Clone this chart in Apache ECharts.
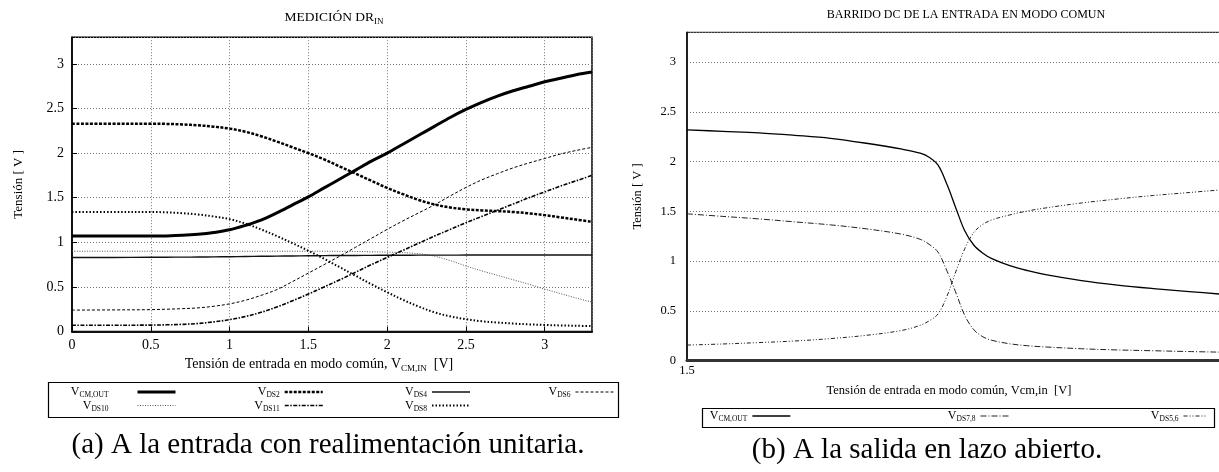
<!DOCTYPE html>
<html>
<head>
<meta charset="utf-8">
<script src="https://cdn.jsdelivr.net/npm/echarts@6.0.0/dist/echarts.min.js"></script>
<style>
html, body { margin: 0; padding: 0; background: #fff; overflow: hidden; }
#main { width: 1219px; height: 472px; }
</style>
</head>
<body>
<div id="main"></div>
<script>
var FONT = 'Liberation Serif';

// (a) medición DR_IN, barrido 0..3.3 V
var vinA = [0, 0.25, 0.5, 0.6, 0.7, 0.8, 0.9, 1.0, 1.1, 1.2, 1.3, 1.4, 1.5, 1.6, 1.7, 1.8,
    1.9, 2.0, 2.1, 2.2, 2.3, 2.4, 2.5, 2.6, 2.7, 2.8, 2.9, 3.0, 3.1, 3.2, 3.3];
var vcmOutA = [1.07, 1.07, 1.07, 1.072, 1.078, 1.09, 1.11, 1.14, 1.19, 1.25, 1.33, 1.42, 1.51, 1.61, 1.71, 1.81,
    1.91, 2.0, 2.1, 2.2, 2.3, 2.4, 2.49, 2.57, 2.64, 2.7, 2.75, 2.8, 2.84, 2.88, 2.91];
var vds2A = [2.33, 2.33, 2.33, 2.328, 2.322, 2.312, 2.297, 2.275, 2.24, 2.19, 2.13, 2.065, 2.0, 1.93, 1.85, 1.77,
    1.69, 1.61, 1.54, 1.475, 1.425, 1.39, 1.37, 1.358, 1.35, 1.34, 1.325, 1.305, 1.28, 1.255, 1.23];
var vds4A = [0.83, 0.83, 0.832, 0.833, 0.834, 0.835, 0.837, 0.839, 0.841, 0.843, 0.845, 0.847, 0.849, 0.851, 0.852, 0.853,
    0.854, 0.855, 0.855, 0.856, 0.856, 0.856, 0.857, 0.857, 0.857, 0.857, 0.857, 0.857, 0.857, 0.857, 0.857];
var vds6A = [0.24, 0.242, 0.245, 0.25, 0.256, 0.265, 0.283, 0.31, 0.35, 0.405, 0.47, 0.56, 0.655, 0.75, 0.845, 0.945,
    1.045, 1.145, 1.24, 1.33, 1.42, 1.52, 1.615, 1.7, 1.77, 1.835, 1.89, 1.94, 1.99, 2.03, 2.065];
var vds10A = [0.9, 0.9, 0.9, 0.9, 0.9, 0.9, 0.9, 0.9, 0.9, 0.9, 0.9, 0.9, 0.9, 0.9, 0.899, 0.897,
    0.894, 0.89, 0.884, 0.872, 0.845, 0.795, 0.735, 0.68, 0.63, 0.58, 0.53, 0.475, 0.425, 0.375, 0.33];
var vds11A = [0.07, 0.07, 0.072, 0.075, 0.08, 0.09, 0.108, 0.133, 0.168, 0.215, 0.275, 0.345, 0.42, 0.5, 0.58, 0.665,
    0.75, 0.83, 0.91, 0.99, 1.07, 1.145, 1.22, 1.29, 1.36, 1.43, 1.5, 1.565, 1.63, 1.69, 1.75];
var vds8A = [1.34, 1.34, 1.34, 1.336, 1.327, 1.312, 1.29, 1.26, 1.21, 1.145, 1.07, 0.99, 0.905, 0.815, 0.72, 0.625,
    0.53, 0.44, 0.355, 0.28, 0.215, 0.17, 0.138, 0.115, 0.1, 0.089, 0.08, 0.073, 0.068, 0.064, 0.06];

// (b) barrido DC en lazo abierto
var vinB = [1.5, 1.52, 1.54, 1.56, 1.58, 1.6, 1.62, 1.63, 1.635, 1.64, 1.645, 1.65, 1.655, 1.66,
    1.665, 1.67, 1.68, 1.69, 1.7, 1.72, 1.74, 1.76, 1.78, 1.8];
var vcmOutB = [2.32, 2.305, 2.29, 2.265, 2.235, 2.185, 2.125, 2.085, 2.045, 1.965, 1.77, 1.53, 1.3, 1.16,
    1.08, 1.025, 0.955, 0.905, 0.865, 0.805, 0.76, 0.725, 0.695, 0.665];
var vds78B = [1.476, 1.45, 1.425, 1.395, 1.365, 1.325, 1.27, 1.22, 1.17, 1.09, 0.9, 0.68, 0.45, 0.31,
    0.24, 0.205, 0.17, 0.15, 0.138, 0.12, 0.108, 0.1, 0.092, 0.085];
var vds56B = [0.157, 0.168, 0.182, 0.198, 0.222, 0.255, 0.305, 0.355, 0.4, 0.47, 0.65, 0.9, 1.13, 1.29,
    1.37, 1.415, 1.465, 1.505, 1.535, 1.585, 1.625, 1.66, 1.69, 1.72];

function pares(xs, ys) {
    return xs.map(function (x, i) { return [x, ys[i]]; });
}

function linea(name, idx, xs, ys, width, type, color) {
    return {
        name: name,
        type: 'line',
        xAxisIndex: idx,
        yAxisIndex: idx,
        data: pares(xs, ys),
        symbol: 'none',
        smooth: 0.35,
        animation: false,
        lineStyle: { width: width, type: type, color: color, cap: 'butt', join: 'round' },
        itemStyle: { color: color }
    };
}

// texto con subíndice
function rich(size, subSize, lh) {
    return {
        a: { fontFamily: FONT, fontSize: size, fontWeight: 'normal', lineHeight: lh, color: '#000' },
        s: { fontFamily: FONT, fontSize: subSize, fontWeight: 'normal', lineHeight: subSize,
             verticalAlign: 'bottom', color: '#000' }
    };
}

function legendFmt(name) {
    return '{a|V}{s|' + name.split(':')[1] + '}';
}

function leyenda(data, right, top, w, padText) {
    return {
        data: data,
        orient: 'vertical',
        align: 'right',
        right: right,
        top: top,
        padding: 0,
        itemGap: 0,
        itemWidth: w,
        itemHeight: 15,
        selectedMode: false,
        formatter: legendFmt,
        itemStyle: { opacity: 0 },
        lineStyle: { width: 'inherit' },
        textStyle: { padding: [0, padText || 0, 0, 0], rich: rich(12, 7.5, 15) }
    };
}

var gridLine = { show: true, lineStyle: { color: '#777', type: [1, 2], width: 1 } };

var chart = echarts.init(document.getElementById('main'));

var option = {
    backgroundColor: '#fff',
    animation: false,
    title: [
        {
            text: '{a|MEDICIÓN DR}{s|IN}',
            left: 334, top: 8, padding: 0, textAlign: 'center',
            textStyle: { fontWeight: 'normal', rich: rich(13.5, 9, 18) }
        },
        {
            text: '{a|BARRIDO DC DE LA ENTRADA EN MODO COMUN}',
            left: 966, top: 6, padding: 0, textAlign: 'center',
            textStyle: { fontWeight: 'normal', rich: rich(12, 8, 18) }
        }
    ],
    grid: [
        { left: 72, top: 37.2, width: 520, height: 294.3, show: true, borderColor: '#000', borderWidth: 1.5,
          containLabel: false, outerBoundsMode: 'none' },
        { left: 687, top: 32.3, width: 538, height: 328.4, show: true, borderColor: '#000', borderWidth: 1,
          containLabel: false, outerBoundsMode: 'none' }
    ],
    xAxis: [
        {
            gridIndex: 0, type: 'value', min: 0, max: 3.3, interval: 0.5,
            axisLine: { show: true, lineStyle: { color: '#111', width: 2 } },
            axisTick: { show: true, inside: true, length: 5, lineStyle: { color: '#000' } },
            axisLabel: { margin: 7, fontSize: 14, fontFamily: FONT, color: '#000', showMaxLabel: false },
            splitLine: gridLine,
            name: '{a|Tensión de entrada en modo común, V}{s|CM,IN}{a|  [V]}',
            nameLocation: 'middle', nameGap: 22,
            nameTextStyle: { padding: [0, 26, 0, 0], rich: rich(14, 9, 18) }
        },
        {
            gridIndex: 1, type: 'value', min: 1.5, max: 1.8, interval: 0.5,
            axisLine: { show: true, lineStyle: { color: '#333', width: 3 } },
            axisTick: { show: false },
            axisLabel: { margin: 4, fontSize: 12.5, fontFamily: FONT, color: '#000', showMaxLabel: false },
            splitLine: { show: false },
            name: '{a|Tensión de entrada en modo común, Vcm,in  [V]}',
            nameLocation: 'middle', nameGap: 22,
            nameTextStyle: { padding: [0, 14, 0, 0], rich: rich(12.5, 8, 16) }
        }
    ],
    yAxis: [
        {
            gridIndex: 0, type: 'value', min: 0, max: 3.3, interval: 0.5,
            axisLine: { show: true, lineStyle: { color: '#000', width: 1.5 } },
            axisTick: { show: true, inside: true, length: 5, lineStyle: { color: '#000' } },
            axisLabel: { margin: 8, fontSize: 14, fontFamily: FONT, color: '#000', showMaxLabel: false },
            splitLine: gridLine,
            name: 'Tensión [ V ]', nameLocation: 'middle', nameRotate: 90, nameGap: 47,
            nameTextStyle: { fontFamily: FONT, fontSize: 13, color: '#000' }
        },
        {
            gridIndex: 1, type: 'value', min: 0, max: 3.3, interval: 0.5,
            axisLine: { show: true, lineStyle: { color: '#000', width: 1.5 } },
            axisTick: { show: false },
            axisLabel: { margin: 11, fontSize: 12.5, fontFamily: FONT, color: '#000', showMaxLabel: false },
            splitLine: gridLine,
            name: 'Tensión [ V ]', nameLocation: 'middle', nameRotate: 90, nameGap: 43,
            nameTextStyle: { fontFamily: FONT, fontSize: 12.5, color: '#000' }
        }
    ],
    legend: [
        leyenda(['a:CM,OUT', 'a:DS10'], 1042, 386, 38, 24),
        leyenda(['a:DS2', 'a:DS11'], 895, 386, 38),
        leyenda(['a:DS4', 'a:DS8'], 748, 386, 38),
        leyenda(['a:DS6'], 605, 386, 38),
        leyenda(['b:CM,OUT'], 428, 410, 38),
        leyenda(['b:DS7,8'], 208, 410, 30),
        leyenda(['b:DS5,6'], 11, 410, 24)
    ],
    series: [
        linea('a:DS10', 0, vinA, vds10A, 1, [1, 1.5], '#555'),
        linea('a:DS4', 0, vinA, vds4A, 1.4, 'solid', '#111'),
        linea('a:DS6', 0, vinA, vds6A, 1, [3, 2], '#000'),
        linea('a:DS11', 0, vinA, vds11A, 1.6, [4, 1.5, 1.5, 1.5], '#000'),
        linea('a:DS8', 0, vinA, vds8A, 2, [1.5, 2], '#000'),
        linea('a:DS2', 0, vinA, vds2A, 2.5, [3, 1.5], '#000'),
        linea('a:CM,OUT', 0, vinA, vcmOutA, 3, 'solid', '#000'),
        linea('b:CM,OUT', 1, vinB, vcmOutB, 1.3, 'solid', '#000'),
        linea('b:DS7,8', 1, vinB, vds78B, 1, [6, 2, 1, 2], '#222'),
        linea('b:DS5,6', 1, vinB, vds56B, 1, [4, 2, 1, 2, 1, 2], '#222')
    ],
    graphic: [
        { type: 'rect', shape: { x: 48.5, y: 382.5, width: 570, height: 35 },
          style: { fill: 'none', stroke: '#000', lineWidth: 1.2 } },
        { type: 'rect', shape: { x: 702.5, y: 408.5, width: 512, height: 19 },
          style: { fill: 'none', stroke: '#000', lineWidth: 1.2 } },
        { type: 'text', x: 328, y: 445,
          style: { text: '(a) A la entrada con realimentación unitaria.', fill: '#000',
                   font: '29px "Liberation Serif"', align: 'center', verticalAlign: 'middle' } },
        { type: 'text', x: 927, y: 450,
          style: { text: '(b) A la salida en lazo abierto.', fill: '#000',
                   font: '29px "Liberation Serif"', align: 'center', verticalAlign: 'middle' } }
    ]
};

chart.setOption(option);
</script>
</body>
</html>
